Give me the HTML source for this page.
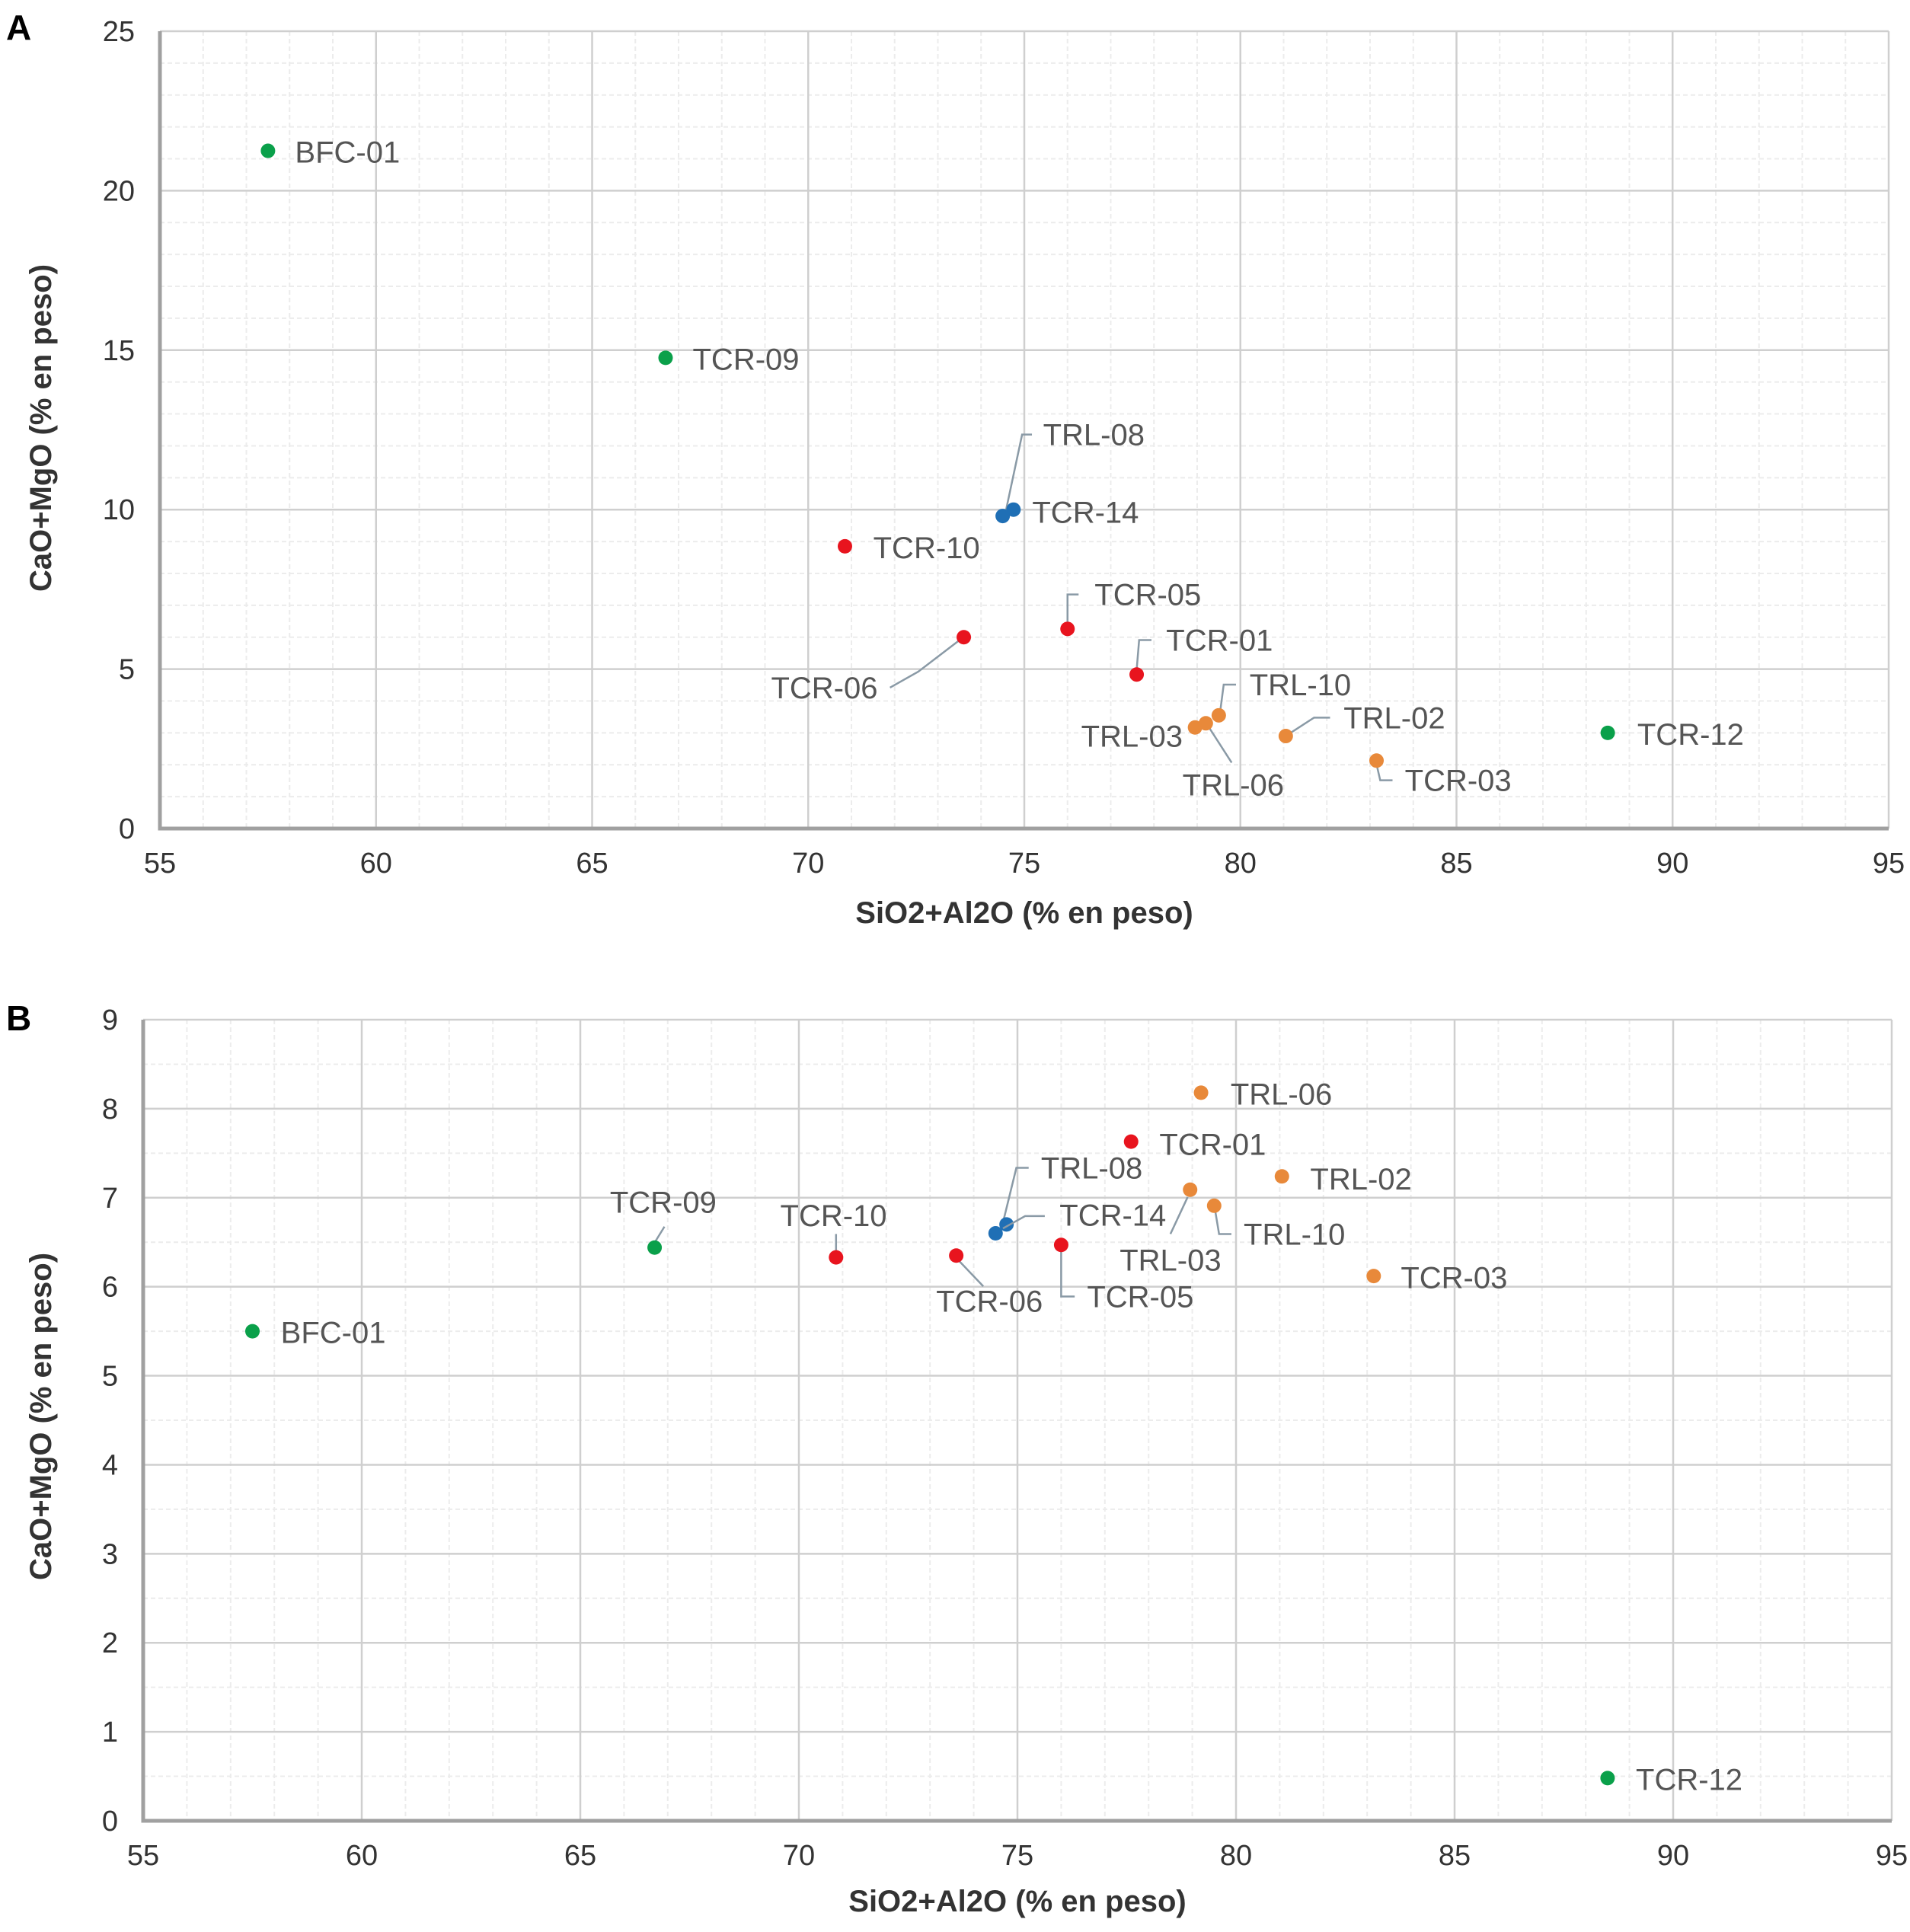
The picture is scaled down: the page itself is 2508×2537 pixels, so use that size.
<!DOCTYPE html>
<html><head><meta charset="utf-8"><style>
html,body{margin:0;padding:0;background:#fff}
svg{display:block}
text{font-family:"Liberation Sans",Arial,sans-serif}
</style></head><body>
<svg id="chart" width="2508" height="2537" viewBox="0 0 2508 2537"></svg>
<script>
// ---- data ----
const sampleNames=["BFC-01","TCR-09","TRL-08","TCR-14","TCR-10","TCR-06","TCR-05","TCR-01","TRL-10","TRL-03","TRL-06","TRL-02","TCR-03","TCR-12"];
const sampleGroup=["green","green","blue","blue","red","red","red","red","orange","orange","orange","orange","orange","green"];
const sio2Al2o3=[57.5,66.7,74.75,74.5,70.85,73.6,76.0,77.6,79.5,78.95,79.2,81.05,83.15,88.5];
const caoMgoA=[21.25,14.76,10.0,9.8,8.85,6.0,6.26,4.83,3.55,3.17,3.3,2.9,2.13,3.0];
const caoMgoB=[5.5,6.44,6.7,6.6,6.33,6.35,6.47,7.63,6.91,7.09,8.18,7.24,6.12,0.48];
const xTicks=[55,60,65,70,75,80,85,90,95];
const yTicksA=[0,5,10,15,20,25];
const yTicksB=[0,1,2,3,4,5,6,7,8,9];

const colors={green:"#0aa04a",red:"#e8141e",blue:"#1f6fb5",orange:"#e8893a"};
const S=1.615;
// label layouts (display-unit offsets relative to point): [dx,dy,anchor,leader points]
const layoutA={
"BFC-01":[22,1,"start",null],"TCR-09":[22,1,"start",null],
"TRL-08":[24,-61,"start",[[-6,0],[7,-61],[15,-61]]],
"TCR-14":[24,-3,"start",null],"TCR-10":[23,1,"start",null],
"TCR-06":[-70,41,"end",[[-3,2],[-37,28],[-60,41]]],
"TCR-05":[22,-28,"start",[[0,-5],[0,-28],[9,-28]]],
"TCR-01":[24,-28,"start",[[0,-4],[2,-28],[12,-28]]],
"TRL-10":[25,-25,"start",[[1,-2],[4,-25],[14,-25]]],
"TRL-03":[-10,7,"end",null],
"TRL-06":[-19,50,"start",[[3,4],[21,32]]],
"TRL-02":[47,-15,"start",[[3,-2],[23,-15],[36,-15]]],
"TCR-03":[23,16,"start",[[0,3],[3,16],[13,16]]],
"TCR-12":[24,1,"start",null]};
const layoutB={
"BFC-01":[23,1,"start",null],
"TCR-09":[7,-37,"middle",[[0,-4],[8,-17]]],
"TCR-10":[-2,-34,"middle",[[0,-5],[0,-19]]],
"TCR-06":[27,37,"middle",[[2,4],[22,25]]],
"TRL-08":[28,-46,"start",[[-4,3],[8,-46],[18,-46]]],
"TCR-14":[52,-15,"start",[[6,-4],[24,-14],[40,-14]]],
"TCR-05":[21,42,"start",[[0,4],[0,42],[11,42]]],
"TCR-01":[23,2,"start",null],"TRL-06":[24,1,"start",null],
"TRL-03":[-16,57,"middle",[[-2,6],[-16,36]]],
"TRL-10":[24,23,"start",[[1,5],[4,23],[14,23]]],
"TRL-02":[23,2,"start",null],"TCR-03":[22,1,"start",null],"TCR-12":[23,1,"start",null]};

const svg=document.getElementById('chart');
const NS="http://www.w3.org/2000/svg";
function mk(tag,attrs,parent){const e=document.createElementNS(NS,tag);for(const k in attrs)e.setAttribute(k,attrs[k]);(parent||svg).appendChild(e);return e;}

function panel(cfg){
  const g=mk('g',{});
  
  
  const {L,R,T,B,ymax,yTicks,yVals,layout,minorY}=cfg;
  const xs=v=>L+(v-55)/40*(R-L);
  const ys=v=>B-(v/ymax)*(B-T);
  // minor grid
  for(let v=56;v<95;v++){ if(v%5===0)continue;
    const l=mk('line',{x1:xs(v),x2:xs(v),y1:T,y2:B,stroke:"#ececec","stroke-width":2,"stroke-dasharray":"6 4"},g);
    
    }
  for(let v=minorY;v<ymax;v+=minorY){ if(Math.abs(v-Math.round(v/ (yTicks[1]-yTicks[0]))*(yTicks[1]-yTicks[0]))<1e-6)continue;
    const l=mk('line',{x1:L,x2:R,y1:ys(v),y2:ys(v),stroke:"#ececec","stroke-width":2,"stroke-dasharray":"6 4"},g);
    
    }
  // major grid
  xTicks.forEach(v=>{
    const l=mk('line',{x1:xs(v),x2:xs(v),y1:T,y2:B,stroke:"#cfcfcf","stroke-width":2.5},g);
    
    
    const t=mk('text',{x:xs(v),y:B+cfg.xLabDy,"text-anchor":"middle","font-size":38,fill:"#333"},g);
    t.textContent=v;
    
    
  });
  yTicks.forEach(v=>{
    const l=mk('line',{x1:L,x2:R,y1:ys(v),y2:ys(v),stroke:"#cfcfcf","stroke-width":2.5},g);
    
    
    const t=mk('text',{x:cfg.yLabX,y:ys(v)+13,"text-anchor":"end","font-size":38,fill:"#333"},g);
    t.textContent=v;
    
    
  });
  // axes
  const ax=mk('path',{d:`M${L} ${T}V${B}H${R}`,stroke:"#a0a0a0","stroke-width":5,fill:"none"},g);
  
  
  // points + labels
  sampleNames.forEach((n,i)=>{
    const px=xs(sio2Al2o3[i]),py=ys(yVals[i]);
    const lay=layout[n];
    if(lay[3]){
      const pts=lay[3].map(p=>(px+p[0]*S)+","+(py+p[1]*S)).join(" ");
      const pl=mk('polyline',{points:pts,fill:"none",stroke:"#8a9aa6","stroke-width":2.5},g);
      
      
    }
    const c=mk('circle',{cx:px,cy:py,r:9.5,fill:colors[sampleGroup[i]]},g);
    
    
    const t=mk('text',{x:px+lay[0]*S,y:py+lay[1]*S+14,"text-anchor":lay[2],"font-size":40,fill:"#555"},g);
    t.textContent=n;
    
    
  });
  const xt=mk('text',{x:(L+R)/2,y:cfg.xTitleY,"text-anchor":"middle","font-size":40,"font-weight":"bold",fill:"#333"},g);
  xt.textContent="SiO2+Al2O (% en peso)";
  
  
  const yt=mk('text',{x:0,y:0,"text-anchor":"middle","font-size":40,"font-weight":"bold",fill:"#333",transform:`translate(67 ${cfg.yTitleY}) rotate(-90)`},g);
  yt.textContent="CaO+MgO (% en peso)";
  
  
  const pl=mk('text',{x:8,y:cfg.letterY,"font-size":46,"font-weight":"bold",fill:"#000"},g);
  pl.textContent=cfg.letter;
  
  
}
panel({name:'panel-a',L:210,R:2480,T:41,B:1088,ymax:25,yTicks:yTicksA,yVals:caoMgoA,layout:layoutA,minorY:1,
  xLabDy:58,yLabX:177,xTitleY:1212,yTitleY:562,letter:"A",letterY:52});
panel({name:'panel-b',L:188,R:2484,T:1339,B:2391,ymax:9,yTicks:yTicksB,yVals:caoMgoB,layout:layoutB,minorY:0.5,
  xLabDy:58,yLabX:155,xTitleY:2510,yTitleY:1860,letter:"B",letterY:1353});
</script>
</body></html>
